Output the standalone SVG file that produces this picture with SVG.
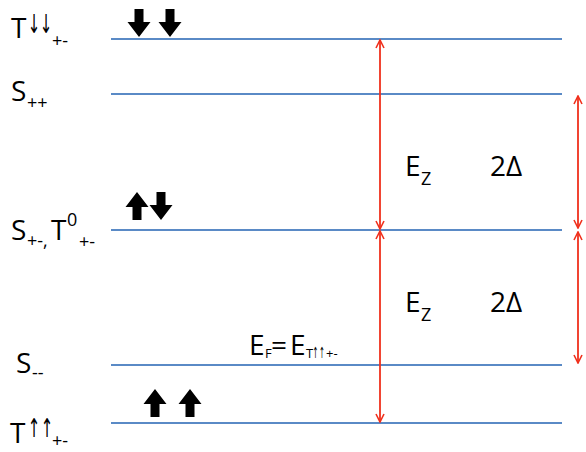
<svg xmlns="http://www.w3.org/2000/svg" width="586" height="452" viewBox="0 0 586 452">
<style>
text{font-family:"Open Sans","Liberation Sans",sans-serif;fill:#000}
.lbl{font-size:28px}
.sub{font-size:18px}
.sup{font-size:18px}
.arr{font-family:"DejaVu Sans",sans-serif;font-size:20px;text-anchor:middle;fill:#000}
.lvl{stroke:#5a8ac6;stroke-width:2}
.red{stroke:#f0301c;stroke-width:1.8;fill:none}
.spin{fill:#000}
</style>
<defs>
<marker id="ah" viewBox="0 0 10 10" refX="9" refY="5" markerWidth="10" markerHeight="10" markerUnits="userSpaceOnUse" orient="auto-start-reverse">
<path d="M1,1 L9,5 L1,9" fill="none" stroke="#f0301c" stroke-width="1.6"/>
</marker>
<path id="dn" d="M-4.5,0 H4.5 V13 H11.5 L0,28 L-11.5,13 H-4.5 Z"/>
<path id="up" d="M-4.5,28 H4.5 V15 H11.5 L0,0 L-11.5,15 H-4.5 Z"/>
</defs>
<g id="level-tdd">
<line class="lvl" x1="111" y1="39" x2="562" y2="39"/>
<text class="lbl" x="11" y="38">T</text>
<text class="arr" transform="translate(34,33) scale(0.75,1.3)">↓</text>
<text class="arr" transform="translate(46,33) scale(0.75,1.3)">↓</text>
<text class="sub" x="52" y="47">+-</text>
<use href="#dn" x="139" y="9" class="spin"/>
<use href="#dn" x="170" y="9" class="spin"/>
</g>
<g id="level-spp">
<line class="lvl" x1="111" y1="94" x2="562" y2="94"/>
<text class="lbl" x="11" y="101">S</text>
<text class="sub" x="27" y="109">++</text>
</g>
<g id="level-spm">
<line class="lvl" x1="111" y1="230" x2="562" y2="230"/>
<text class="lbl" x="11" y="240">S</text>
<text class="sub" x="27" y="247">+-,</text>
<text class="lbl" x="51" y="240">T</text>
<text class="sup" x="67" y="226">0</text>
<text class="sub" x="79" y="248">+-</text>
<use href="#up" x="137" y="192" class="spin"/>
<use href="#dn" x="161" y="192" class="spin"/>
</g>
<g id="level-smm">
<line class="lvl" x1="111" y1="365" x2="562" y2="365"/>
<text class="lbl" x="16" y="373">S</text>
<text class="sub" x="32" y="379">--</text>
<text class="lbl" x="249" y="355">E</text>
<text class="sub" style="font-size:13px" x="265" y="358">F</text>
<text class="lbl" x="271" y="355">=</text>
<text class="lbl" x="290" y="355">E</text>
<text class="sub" style="font-size:13px" x="306" y="358">T</text>
<text class="arr" style="font-size:14px" transform="translate(315.5,358) scale(0.5,1.1)">↑</text>
<text class="arr" style="font-size:14px" transform="translate(322,358) scale(0.5,1.1)">↑</text>
<text class="sub" style="font-size:13px" x="326" y="358">+-</text>
</g>
<g id="level-tuu">
<line class="lvl" x1="111" y1="423" x2="562" y2="423"/>
<text class="lbl" x="10" y="443">T</text>
<text class="arr" transform="translate(34,437) scale(0.75,1.3)">↑</text>
<text class="arr" transform="translate(47,437) scale(0.75,1.3)">↑</text>
<text class="sub" x="52" y="447">+-</text>
<use href="#up" x="155" y="389" class="spin"/>
<use href="#up" x="190" y="389" class="spin"/>
</g>
<g id="connectors">
<line class="red" x1="380" y1="40" x2="380" y2="229" marker-start="url(#ah)" marker-end="url(#ah)"/>
<line class="red" x1="380" y1="231" x2="380" y2="422" marker-start="url(#ah)" marker-end="url(#ah)"/>
<line class="red" x1="578" y1="96" x2="578" y2="228" marker-start="url(#ah)" marker-end="url(#ah)"/>
<line class="red" x1="578" y1="232" x2="578" y2="363" marker-start="url(#ah)" marker-end="url(#ah)"/>
</g>
<g id="labels">
<text class="lbl" x="405" y="176">E</text>
<text class="sub" x="421" y="185">Z</text>
<text class="lbl" x="490" y="176">2Δ</text>
<text class="lbl" x="405" y="312">E</text>
<text class="sub" x="421" y="321">Z</text>
<text class="lbl" x="490" y="312">2Δ</text>
</g>
</svg>
